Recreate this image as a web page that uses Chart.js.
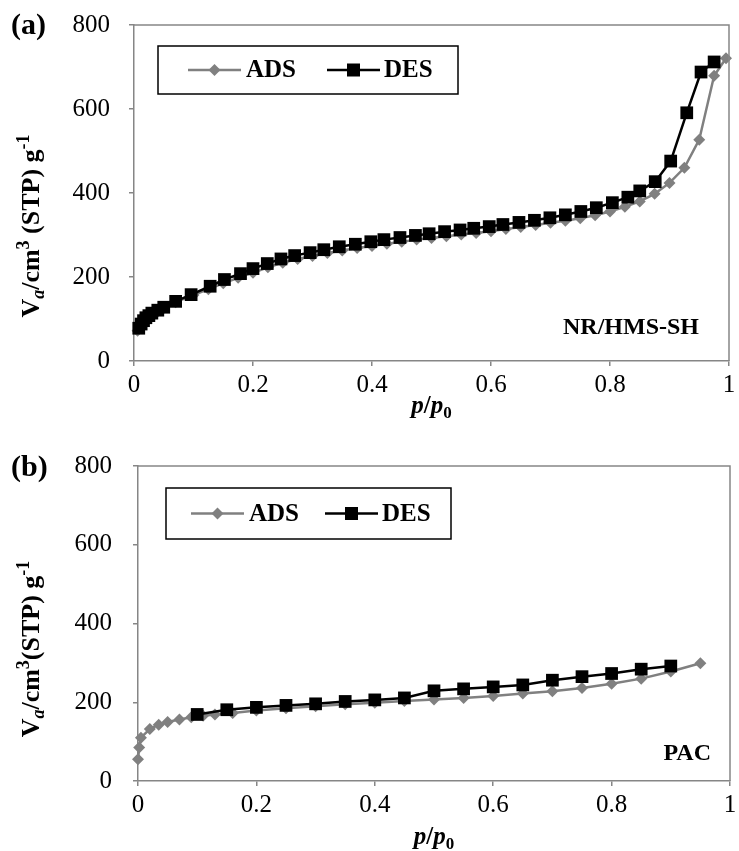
<!DOCTYPE html>
<html>
<head>
<meta charset="utf-8">
<script src="https://cdn.jsdelivr.net/npm/chart.js@4"></script>
<style>
  body { margin: 0; background: #fff; }
  canvas { position: absolute; left: 0; }
</style>
</head>
<body>
<canvas id="chartA" width="739" height="425" style="top:0"></canvas>
<canvas id="chartB" width="739" height="426" style="top:425px"></canvas>
<script>
// panel (a) NR/HMS-SH
const adsP_a = [0.006, 0.01, 0.014, 0.018, 0.022, 0.027, 0.033, 0.04, 0.05, 0.07, 0.1, 0.125, 0.15, 0.175, 0.2, 0.225, 0.25, 0.275, 0.3, 0.325, 0.35, 0.375, 0.4, 0.425, 0.45, 0.475, 0.5, 0.525, 0.55, 0.575, 0.6, 0.625, 0.65, 0.675, 0.7, 0.725, 0.75, 0.775, 0.8, 0.825, 0.85, 0.875, 0.9, 0.925, 0.95, 0.975, 0.995];
const adsV_a = [72, 82, 90, 96, 102, 107, 112, 118, 126, 140, 157, 171, 185, 198, 210, 223, 234, 243, 250, 257, 263, 269, 274, 279, 284, 289, 293, 297, 301, 305, 309, 314, 319, 324, 329, 334, 340, 347, 356, 367, 380, 398, 424, 460, 527, 679, 721];
const desP_a = [0.008, 0.012, 0.016, 0.02, 0.025, 0.03, 0.04, 0.05, 0.07, 0.096, 0.128, 0.152, 0.179, 0.2, 0.224, 0.247, 0.27, 0.296, 0.319, 0.345, 0.372, 0.398, 0.42, 0.447, 0.473, 0.496, 0.522, 0.548, 0.571, 0.597, 0.62, 0.647, 0.673, 0.699, 0.725, 0.751, 0.777, 0.804, 0.83, 0.85, 0.876, 0.902, 0.929, 0.953, 0.975];
const desV_a = [78, 88, 96, 103, 108, 114, 121, 128, 142, 158, 178, 194, 208, 220, 232, 243, 251, 258, 265, 272, 278, 284, 289, 294, 299, 303, 308, 312, 316, 320, 325, 330, 335, 341, 348, 356, 365, 377, 390, 405, 427, 476, 591, 688, 712];

// panel (b) PAC
const adsP_b = [0, 0.002, 0.005, 0.02, 0.035, 0.05, 0.07, 0.09, 0.11, 0.13, 0.16, 0.2, 0.25, 0.3, 0.35, 0.4, 0.45, 0.5, 0.55, 0.6, 0.65, 0.7, 0.75, 0.8, 0.85, 0.9, 0.95];
const adsV_b = [55, 85, 110, 132, 143, 150, 156, 162, 166, 169, 173, 179, 185, 190, 195, 199, 203, 207, 211, 216, 222, 228, 236, 247, 260, 278, 299];
const desP_b = [0.1, 0.15, 0.2, 0.25, 0.3, 0.35, 0.4, 0.45, 0.5, 0.55, 0.6, 0.65, 0.7, 0.75, 0.8, 0.85, 0.9];
const desV_b = [169, 181, 187, 192, 196, 202, 206, 211, 229, 234, 239, 244, 256, 265, 273, 284, 292];

const xTicks = ['0', '0.2', '0.4', '0.6', '0.8', '1'];
const yTicks = ['0', '200', '400', '600', '800'];
const seriesNames = ['ADS', 'DES'];

const SERIF = "'Liberation Serif', 'Times New Roman', serif";
const GRAY = '#808080';
const AXIS = '#868686';

Chart.defaults.font.family = SERIF;

function richText(ctx, parts, cx, baseY) {
  let w = 0;
  parts.forEach(p => { ctx.font = p[1]; w += ctx.measureText(p[0]).width; });
  let x = cx - w / 2;
  ctx.textAlign = 'left';
  ctx.textBaseline = 'alphabetic';
  parts.forEach(p => {
    ctx.font = p[1];
    ctx.fillText(p[0], x, baseY + (p[2] || 0));
    x += ctx.measureText(p[0]).width;
  });
}

function diamond(ctx, x, y, r) {
  ctx.beginPath();
  ctx.moveTo(x, y - r); ctx.lineTo(x + r, y); ctx.lineTo(x, y + r); ctx.lineTo(x - r, y);
  ctx.closePath();
  ctx.fill();
}

function makeChart(id, o) {
  const canvas = document.getElementById(id);
  const W = canvas.width, H = canvas.height;
  const toPts = (xs, ys) => xs.map((x, i) => ({ x: x, y: ys[i] }));

  const decor = {
    id: 'decor',
    afterDraw(chart) {
      const ctx = chart.ctx;
      const a = chart.chartArea;
      ctx.save();
      // top / right frame
      ctx.strokeStyle = AXIS;
      ctx.lineWidth = 1.5;
      ctx.beginPath();
      ctx.moveTo(a.left, a.top); ctx.lineTo(a.right, a.top); ctx.lineTo(a.right, a.bottom);
      ctx.stroke();

      // legend box
      const L = o.legend;
      ctx.fillStyle = '#fff';
      ctx.fillRect(L.x, L.y, L.w, L.h);
      ctx.strokeStyle = '#000';
      ctx.lineWidth = 1.5;
      ctx.strokeRect(L.x, L.y, L.w, L.h);
      const cy = L.y + L.h / 2;
      ctx.lineWidth = 2.5;
      ctx.strokeStyle = GRAY;
      ctx.beginPath(); ctx.moveTo(L.x1, cy); ctx.lineTo(L.x1 + 53, cy); ctx.stroke();
      ctx.fillStyle = GRAY;
      diamond(ctx, L.x1 + 26.5, cy, 6);
      ctx.strokeStyle = '#000';
      ctx.beginPath(); ctx.moveTo(L.x2, cy); ctx.lineTo(L.x2 + 53, cy); ctx.stroke();
      ctx.fillStyle = '#000';
      ctx.fillRect(L.x2 + 26.5 - 6.5, cy - 6.5, 13, 13);
      ctx.font = 'bold 25px ' + SERIF;
      ctx.textAlign = 'left';
      ctx.textBaseline = 'middle';
      ctx.fillText(seriesNames[0], L.x1 + 58, cy + 1);
      ctx.fillText(seriesNames[1], L.x2 + 57, cy + 1);

      // panel letter and sample name
      ctx.fillStyle = '#000';
      ctx.font = 'bold 30px ' + SERIF;
      ctx.textBaseline = 'alphabetic';
      ctx.fillText(o.letter, 11, o.letterY);
      ctx.font = 'bold 24px ' + SERIF;
      ctx.textAlign = 'right';
      ctx.fillText(o.sample, o.sampleX, o.sampleY);

      // x title p/p0
      richText(ctx, [
        ['p', 'bold italic 25px ' + SERIF],
        ['/', 'bold 25px ' + SERIF],
        ['p', 'bold italic 25px ' + SERIF],
        ['0', 'bold 17px ' + SERIF, 5]
      ], (a.left + a.right) / 2, o.xTitleY);

      // y title
      ctx.translate(o.yTitleX, o.yTitleY);
      ctx.rotate(-Math.PI / 2);
      richText(ctx, [
        ['V', 'bold 26px ' + SERIF],
        ['a', 'bold italic 18px ' + SERIF, 5],
        ['/cm', 'bold 26px ' + SERIF],
        ['3', 'bold 18px ' + SERIF, -10],
        [o.stp, 'bold 26px ' + SERIF],
        ['-1', 'bold 18px ' + SERIF, -10]
      ], 0, 9);
      ctx.restore();
    }
  };

  return new Chart(canvas, {
    type: 'scatter',
    data: {
      datasets: [{
        label: seriesNames[1],
        data: toPts(o.desP, o.desV),
        showLine: true,
        borderColor: '#000',
        backgroundColor: '#000',
        borderWidth: 2.5,
        pointStyle: 'rect',
        pointRadius: 9,
        pointBorderWidth: 0,
        pointHoverRadius: 9,
        order: 1,
        clip: false
      }, {
        label: seriesNames[0],
        data: toPts(o.adsP, o.adsV),
        showLine: true,
        borderColor: GRAY,
        backgroundColor: GRAY,
        borderWidth: 2.5,
        pointStyle: 'rectRot',
        pointRadius: 6,
        pointBorderWidth: 0,
        pointHoverRadius: 6,
        order: 2,
        clip: false
      }]
    },
    options: {
      responsive: false,
      animation: false,
      events: [],
      layout: { padding: { top: o.top, right: W - o.right, bottom: 0, left: 0 } },
      plugins: {
        legend: { display: false },
        tooltip: { enabled: false }
      },
      scales: {
        x: {
          type: 'linear',
          min: 0,
          max: 1,
          border: { color: AXIS, width: 1.5 },
          grid: { drawOnChartArea: false, tickLength: 5, color: AXIS, lineWidth: 1.5 },
          ticks: {
            stepSize: 0.2,
            maxRotation: 0,
            padding: 4,
            color: '#000',
            font: { family: SERIF, size: 25 },
            callback: (v, i) => xTicks[i]
          },
          afterFit: s => { s.height = H - o.bottom; s.paddingLeft = 0; s.paddingRight = 0; }
        },
        y: {
          min: 0,
          max: 800,
          border: { color: AXIS, width: 1.5 },
          grid: { drawOnChartArea: false, tickLength: 5, color: AXIS, lineWidth: 1.5 },
          ticks: {
            stepSize: 200,
            padding: o.yPad,
            color: '#000',
            font: { family: SERIF, size: 25 },
            callback: (v, i) => yTicks[i]
          },
          afterFit: s => { s.width = o.left; s.paddingTop = 0; s.paddingBottom = 0; }
        }
      }
    },
    plugins: [decor]
  });
}

makeChart('chartA', {
  adsP: adsP_a, adsV: adsV_a, desP: desP_a, desV: desV_a,
  left: 134, top: 25, right: 729, bottom: 361, yPad: 19,
  legend: { x: 158, y: 46, w: 300, h: 48, x1: 188, x2: 327 },
  letter: '(a)', letterY: 34,
  sample: 'NR/HMS-SH', sampleX: 699, sampleY: 334,
  xTitleY: 413, yTitleX: 30, yTitleY: 226,
  stp: ' (STP) g'
});

makeChart('chartB', {
  adsP: adsP_b, adsV: adsV_b, desP: desP_b, desV: desV_b,
  left: 138, top: 41, right: 735, bottom: 356, yPad: 21,
  legend: { x: 166, y: 63, w: 285, h: 51, x1: 191, x2: 325 },
  letter: '(b)', letterY: 51,
  sample: 'PAC', sampleX: 711, sampleY: 335,
  xTitleY: 419, yTitleX: 30, yTitleY: 224,
  stp: '(STP) g'
});
</script>
</body>
</html>
